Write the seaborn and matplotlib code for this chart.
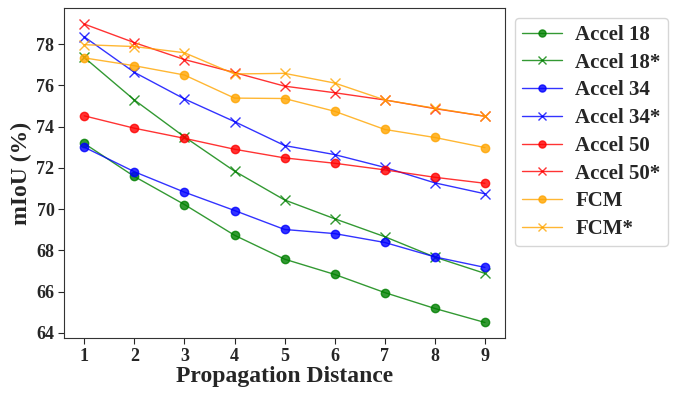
# libraries
import numpy as np
import pandas as pd
import matplotlib
matplotlib.use('Agg')
import matplotlib.pyplot as plt
import seaborn as sns

# data
distance = [1, 2, 3, 4, 5, 6, 7, 8, 9]
accel18 = [73.18, 71.58, 70.22, 68.73, 67.57, 66.83, 65.95, 65.18, 64.5]
accel18_star = [77.35, 75.29, 73.5, 71.84, 70.44, 69.53, 68.66, 67.67, 66.88]
accel34 = [73.0, 71.81, 70.82, 69.93, 69.01, 68.81, 68.38, 67.68, 67.17]
accel34_star = [78.35, 76.63, 75.34, 74.24, 73.08, 72.64, 72.02, 71.27, 70.74]
accel50 = [74.52, 73.92, 73.43, 72.9, 72.48, 72.22, 71.9, 71.54, 71.25]
accel50_star = [78.97, 78.07, 77.25, 76.62, 75.96, 75.64, 75.29, 74.87, 74.5]
fcm = [77.33, 76.95, 76.5, 75.38, 75.36, 74.74, 73.86, 73.47, 72.98]
fcm_star = [77.97, 77.88, 77.58, 76.55, 76.58, 76.11, 75.29, 74.89, 74.5]

names = ['Accel 18', 'Accel 18*', 'Accel 34', 'Accel 34*',
         'Accel 50', 'Accel 50*', 'FCM', 'FCM*']
series = [accel18, accel18_star, accel34, accel34_star,
          accel50, accel50_star, fcm, fcm_star]
colors = ['green', 'green', 'blue', 'blue', 'red', 'red', 'orange', 'orange']
markers = ['o', 'x', 'o', 'x', 'o', 'x', 'o', 'x']

sns.set_style('ticks')
plt.rcParams['font.family'] = ['Liberation Serif', 'DejaVu Serif']
plt.rcParams['font.weight'] = 'bold'

fig, ax = plt.subplots(figsize=(6.76, 3.99), dpi=100)
fig.subplots_adjust(left=0.095, right=0.747, top=0.98, bottom=0.153)

for name, vals, c, m in zip(names, series, colors, markers):
    sns.lineplot(x=distance, y=vals, ax=ax, color=c, marker=m, label=name,
                 linewidth=1, markersize=6 if m == 'o' else 7,
                 markeredgecolor=c, markeredgewidth=1, alpha=0.8)

ax.set_xticks(distance)
ax.set_yticks(np.arange(64, 79, 2))
ax.set_ylim(63.75, 79.75)
ax.tick_params(axis='both', labelsize=13, direction='out', length=4, width=0.8, pad=3)
for lab in ax.get_xticklabels() + ax.get_yticklabels():
    lab.set_fontweight('bold')
ax.set_xlabel('Propagation Distance', fontsize=17, fontweight='bold', labelpad=1)
ax.set_ylabel('mIoU (%)', fontsize=17, fontweight='bold', labelpad=3)
for s in ax.spines.values():
    s.set_color('#333333')
    s.set_linewidth(0.8)

leg = ax.legend(loc='upper left', bbox_to_anchor=(1.023, 0.97), borderaxespad=0,
                prop={'weight': 'bold', 'size': 15}, handlelength=1.9,
                handletextpad=0.65, labelspacing=0.37, borderpad=0.34,
                markerscale=0.85, frameon=True)

plt.savefig('out.png', dpi=100)
